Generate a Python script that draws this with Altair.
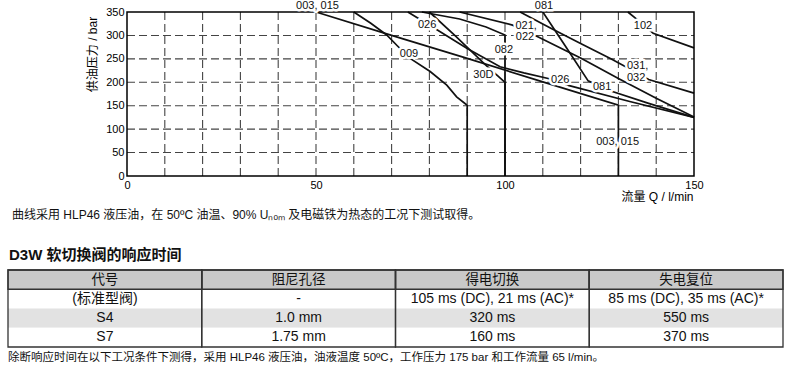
import altair as alt
import pandas as pd

# ---------------- chart data ----------------
curve_names = ["003, 015", "009", "026", "30D", "082", "021, 022", "031, 032", "081", "102"]
q_003 = [50, 70, 90, 110, 130, 130]
p_003 = [350, 300, 251, 201, 151, 0]
q_009 = [60, 64.5, 68.7, 71.5, 74.9, 80.2, 84.6, 87.2, 90, 90]
p_009 = [350, 326, 301, 278, 251, 223, 194, 169, 151, 0]
q_026 = [74.3, 82, 90, 98.7, 105, 112, 117, 133, 150]
p_026 = [350, 312, 272, 233, 220, 207, 193, 159, 125]
q_30D = [80, 87, 94.7, 100, 100]
p_30D = [350, 298, 238, 200, 0]
q_082 = [78, 88, 95, 100, 100]
p_082 = [350, 335, 318, 301, 0]
q_021 = [88, 102, 108, 120, 130, 140, 150]
p_021 = [350, 322, 300, 252, 208, 166, 126]
q_031 = [104, 112, 120, 128, 134, 138, 150]
p_031 = [350, 316, 283, 250, 224, 206, 177]
q_081 = [110, 116, 122, 127, 138, 150]
p_081 = [350, 277, 203, 184, 155, 125]
q_102 = [132.5, 134.5, 137, 139.2, 150]
p_102 = [350, 337, 320, 304.5, 273.5]

label_text = ["003, 015", "009", "026", "30D", "082", "021,", "022", "081", "102",
              "026", "081", "031,", "032", "003, 015"]
label_q = [50.4, 74.6, 79.4, 94.3, 99.7, 105.6, 105.3, 110.3, 136.5,
           114.6, 125.7, 135.1, 134.7, 129.8]
label_p = [363, 261, 323, 215.5, 268, 321, 296, 363, 321,
           205, 189, 234, 209, 72.6]

q_ticks = [0, 50, 100, 150]
p_ticks = [0, 50, 100, 150, 200, 250, 300, 350]
q_grid = [10, 20, 30, 40, 50, 60, 70, 80, 90, 100, 110, 120, 130, 140]
p_grid = [50, 100, 150, 200, 250, 300]
q_range = [0, 150]
p_range = [0, 350]

x_title = "流量 Q / l/min"
y_title = "供油压力 / bar"
note_text = "曲线采用 HLP46 液压油，在 50ºC 油温、90% Uₙₒₘ 及电磁铁为热态的工况下测试取得。"
heading_text = "D3W 软切换阀的响应时间"
footer_text = "除断响应时间在以下工况条件下测得，采用 HLP46 液压油，油液温度 50ºC，工作压力 175 bar 和工作流量 65 l/min。"

table_header = ["代号", "阻尼孔径", "得电切换", "失电复位"]
table_body = [
    ["(标准型阀)", "-", "105 ms (DC), 21 ms (AC)*", "85 ms (DC), 35 ms (AC)*"],
    ["S4", "1.0 mm", "320 ms", "550 ms"],
    ["S7", "1.75 mm", "160 ms", "370 ms"],
]

# ---------------- build tables ----------------
curve_data = [q_003, p_003, q_009, p_009, q_026, p_026, q_30D, p_30D, q_082, p_082,
              q_021, p_021, q_031, p_031, q_081, p_081, q_102, p_102]
rows = []
for k, name in enumerate(curve_names):
    qs, ps = curve_data[2 * k], curve_data[2 * k + 1]
    for i, (q, p) in enumerate(zip(qs, ps)):
        rows.append({"series": name, "Q": q, "P": p, "ord": i})
curves_df = pd.DataFrame(rows)

labels_df = pd.DataFrame({"label": label_text, "Q": label_q, "P": label_p})
vgrid_df = pd.DataFrame({"Q": q_grid, "P": [p_range[0]] * len(q_grid), "P2": [p_range[1]] * len(q_grid)})
hgrid_df = pd.DataFrame({"P": p_grid, "Q": [q_range[0]] * len(p_grid), "Q2": [q_range[1]] * len(p_grid)})
frame_df = pd.DataFrame({"Q": [q_range[0]], "Q2": [q_range[1]], "P": [p_range[0]], "P2": [p_range[1]]})

ncols = len(table_header)
all_rows = [table_header] + table_body
nrows = len(all_rows)
cells = []
for r, row in enumerate(all_rows):
    for c, txt in enumerate(row):
        cells.append({"txt": txt, "c": c, "c2": c + 1, "cm": c + 0.5,
                      "r": r, "r2": r + 1, "rm": r + 0.5,
                      "kind": "header" if r == 0 else ("shade" if r == 2 else "plain")})
cells_df = pd.DataFrame(cells)
cols_df = pd.DataFrame({"c": list(range(ncols)), "c2": [c + 1 for c in range(ncols)],
                        "r": [0] * ncols, "r2": [nrows] * ncols})

# ---------------- scales / axes ----------------
LATIN = "Liberation Sans, Arial, Noto Sans CJK SC"
CJK = "Liberation Sans, Noto Sans CJK SC"

xs = alt.Scale(domain=q_range, range=[127, 694], nice=False, zero=False)
ys = alt.Scale(domain=p_range, range=[176, 12], nice=False, zero=False)

x_axis = alt.Axis(values=q_ticks, grid=False, ticks=False, domain=False, labelFlush=False,
                  labelFont=LATIN, labelFontSize=11, labelColor="black", labelPadding=3,
                  offset=-190, title=x_title, titleFont=CJK, titleFontSize=12,
                  titleFontWeight="normal", titleColor="black", titleX=693, titleY=20,
                  titleAlign="right", titleBaseline="middle")
y_axis = alt.Axis(values=p_ticks, grid=False, ticks=False, domain=False, labelFlush=False,
                  labelFont=LATIN, labelFontSize=11, labelColor="black", labelPadding=3,
                  offset=-127, title=y_title, titleFont=CJK, titleFontSize=12,
                  titleFontWeight="normal", titleColor="black", titleX=-35, titleY=54,
                  titleAngle=270, titleAlign="center", titleBaseline="middle")

def X(f):
    return alt.X(f, type="quantitative", scale=xs, axis=x_axis)

def Y(f):
    return alt.Y(f, type="quantitative", scale=ys, axis=y_axis)

vgrid = alt.Chart(vgrid_df).mark_rule(color="#444", strokeWidth=1.1, strokeDash=[8, 4]).encode(
    x=X("Q"), y=Y("P"), y2="P2")
hgrid = alt.Chart(hgrid_df).mark_rule(color="#444", strokeWidth=1.1, strokeDash=[8, 4]).encode(
    y=Y("P"), x=X("Q"), x2="Q2")
frame = alt.Chart(frame_df).mark_rect(fillOpacity=0, stroke="black", strokeWidth=1.5).encode(
    x=X("Q"), x2="Q2", y=Y("P"), y2="P2")
curves = alt.Chart(curves_df).mark_line(color="#111", strokeWidth=1.7).encode(
    x=X("Q"), y=Y("P"), detail="series:N", order="ord:Q")
halo = alt.Chart(labels_df).mark_text(font=LATIN, fontSize=11, color="white", stroke="white",
                                      strokeWidth=5, strokeJoin="round").encode(
    x=X("Q"), y=Y("P"), text="label:N")
labels = alt.Chart(labels_df).mark_text(font=LATIN, fontSize=11, color="#111").encode(
    x=X("Q"), y=Y("P"), text="label:N")

plot = alt.layer(vgrid, hgrid, curves, frame, halo, labels)

# ---------------- table ----------------
txs = alt.Scale(domain=[0, ncols], range=[8, 783], nice=False, zero=False)
tys = alt.Scale(domain=[0, nrows], range=[270, 347], nice=False, zero=False)
fill_scale = alt.Scale(domain=["header", "shade", "plain"], range=["#c9c9c9", "#e2e2e2", "#ffffff"])

tbg = alt.Chart(cells_df).mark_rect(strokeWidth=0).encode(
    x=alt.X("c:Q", scale=txs, axis=None), x2="c2",
    y=alt.Y("r:Q", scale=tys, axis=None), y2="r2",
    color=alt.Color("kind:N", scale=fill_scale, legend=None))
thead_border = alt.Chart(cells_df[cells_df.kind == "header"]).mark_rect(
    fillOpacity=0, stroke="#333", strokeWidth=1.3).encode(
    x=alt.X("c:Q", scale=txs, axis=None), x2="c2",
    y=alt.Y("r:Q", scale=tys, axis=None), y2="r2")
tcols = alt.Chart(cols_df).mark_rect(fillOpacity=0, stroke="#333", strokeWidth=1.3).encode(
    x=alt.X("c:Q", scale=txs, axis=None), x2="c2",
    y=alt.Y("r:Q", scale=tys, axis=None), y2="r2")
thead_text = alt.Chart(cells_df[cells_df.kind == "header"]).mark_text(
    font=CJK, fontSize=13.5, color="#111").encode(
    x=alt.X("cm:Q", scale=txs, axis=None), y=alt.Y("rm:Q", scale=tys, axis=None), text="txt:N")
tbody_text = alt.Chart(cells_df[cells_df.kind != "header"]).mark_text(
    font=CJK, fontSize=14, color="#111").encode(
    x=alt.X("cm:Q", scale=txs, axis=None), y=alt.Y("rm:Q", scale=tys, axis=None), text="txt:N")

table = alt.layer(tbg, thead_border, tcols, thead_text, tbody_text)

# ---------------- captions ----------------
note = alt.Chart(pd.DataFrame({"t": [note_text]})).mark_text(
    font=CJK, fontSize=12, color="#111", align="left", baseline="middle").encode(
    x=alt.value(12), y=alt.value(215), text="t:N")
heading = alt.Chart(pd.DataFrame({"t": [heading_text]})).mark_text(
    font=CJK, fontSize=15, fontWeight="bold", color="#111", align="left", baseline="middle").encode(
    x=alt.value(9), y=alt.value(255), text="t:N")
footer = alt.Chart(pd.DataFrame({"t": [footer_text]})).mark_text(
    font=CJK, fontSize=11.5, color="#111", align="left", baseline="middle").encode(
    x=alt.value(8), y=alt.value(358), text="t:N")

chart = alt.layer(plot, table, note, heading, footer).resolve_scale(
    x="independent", y="independent"
).properties(
    width=790, height=366, padding=0, autosize=alt.AutoSizeParams(type="none"),
    background="white"
).configure_view(strokeWidth=0)

chart.save("out.html", embed_options={"renderer": "svg", "actions": False})
